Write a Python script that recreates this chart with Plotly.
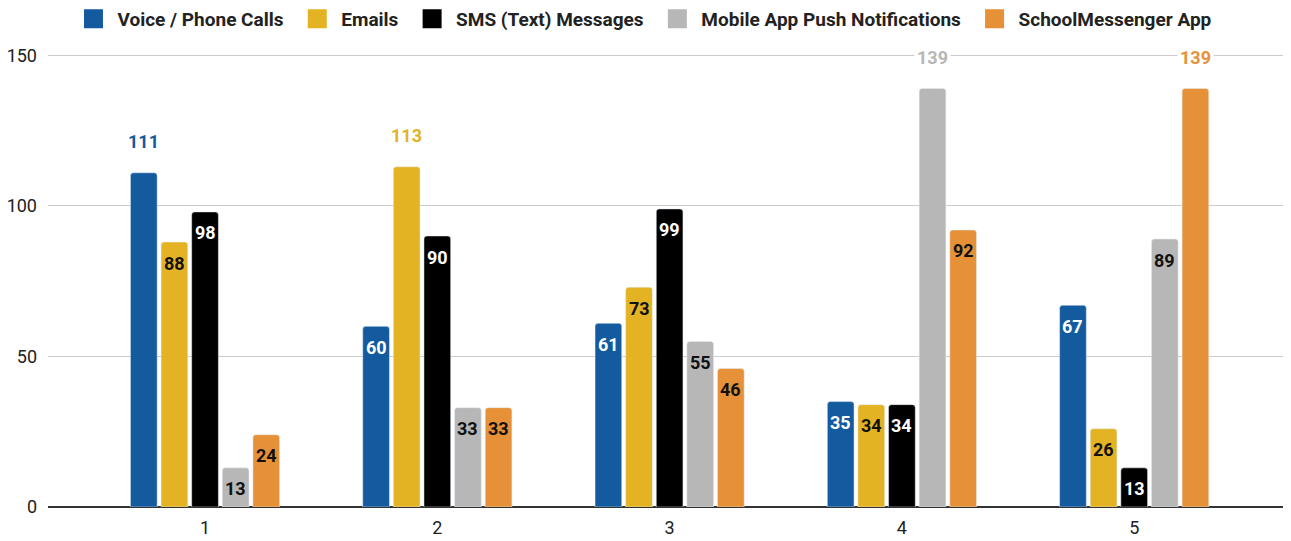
import plotly.graph_objects as go

categories = [1, 2, 3, 4, 5]
series_names = ["Voice / Phone Calls", "Emails", "SMS (Text) Messages",
                "Mobile App Push Notifications", "SchoolMessenger App"]
voice = [111, 60, 61, 35, 67]
emails = [88, 113, 73, 34, 26]
sms = [98, 90, 99, 34, 13]
push = [13, 33, 55, 139, 89]
app = [24, 33, 46, 92, 139]
series_values = [voice, emails, sms, push, app]
y_ticks = [0, 50, 100, 150]
x_tick_labels = ["1", "2", "3", "4", "5"]

colors = ["#135a9e", "#e3b324", "#000000", "#b7b7b7", "#e69138"]
inside_text_colors = ["#ffffff", "#111111", "#ffffff", "#111111", "#111111"]
# labels drawn above the bar (series index, category index) as in the reference
outside = {(0, 0), (1, 1), (3, 3), (4, 4)}

BARGAP = 0.341
BARGROUPGAP = 0.128
FONT = "Roboto"

fig = go.Figure()
for i, (name, vals) in enumerate(zip(series_names, series_values)):
    fig.add_trace(go.Bar(
        x=categories, y=vals, name=name, marker_color=colors[i],
        marker_cornerradius=3, showlegend=False, hoverinfo="x+y+name",
    ))
# legend entries (square swatches)
n = len(series_names)
for i, name in enumerate(series_names):
    pad = "\u00a0" if i < n - 1 else ""
    fig.add_trace(go.Scatter(
        x=[None], y=[None], mode="markers", name=name + pad,
        marker=dict(symbol="square", size=16, color=colors[i],
                    line=dict(color=colors[i], width=3)),
        showlegend=True,
    ))

# data labels
slot = (1 - BARGAP) / n
annotations = []
for i, vals in enumerate(series_values):
    for j, v in enumerate(vals):
        xc = categories[j] + (i - (n - 1) / 2) * slot
        if (i, j) in outside:
            annotations.append(dict(
                x=xc, y=v, xref="x", yref="y", text=str(v), showarrow=False,
                yshift=31, yanchor="middle", bgcolor="white", borderpad=2,
                font=dict(family=FONT, size=18, color=colors[i], weight="bold"),
            ))
        else:
            annotations.append(dict(
                x=xc, y=v, xref="x", yref="y", text=str(v), showarrow=False,
                yshift=-21, yanchor="middle",
                font=dict(family=FONT, size=18, color=inside_text_colors[i], weight="bold"),
            ))

# the page places the figure 8px from the top-left corner
fig.update_layout(
    width=1283, height=533,
    margin=dict(l=40, r=0, t=32, b=34),
    paper_bgcolor="white", plot_bgcolor="white",
    barmode="group", bargap=BARGAP, bargroupgap=BARGROUPGAP,
    font=dict(family=FONT, size=18, color="#222222"),
    showlegend=True,
    legend=dict(orientation="h", xref="container", yref="container",
                x=0.4953, xanchor="center", y=0.9794, yanchor="middle",
                font=dict(family=FONT, size=19, color="#222222", weight="bold"),
                itemwidth=38, tracegroupgap=0, bgcolor="rgba(0,0,0,0)"),
    annotations=annotations,
)
fig.update_xaxes(
    range=[0.324, 5.675], tickvals=categories, ticktext=x_tick_labels,
    showgrid=False, zeroline=False, showline=False, ticks="",
    ticklabelstandoff=8,
    tickfont=dict(family=FONT, size=18, color="#222222"),
)
fig.update_yaxes(
    range=[0, 155.1], tickvals=y_ticks, showgrid=True, gridcolor="#cccccc",
    gridwidth=1, zeroline=True, zerolinecolor="#333333", zerolinewidth=1.5,
    ticks="", ticklabelstandoff=10,
    tickfont=dict(family=FONT, size=18, color="#222222"),
)

fig.write_html("out.html")
